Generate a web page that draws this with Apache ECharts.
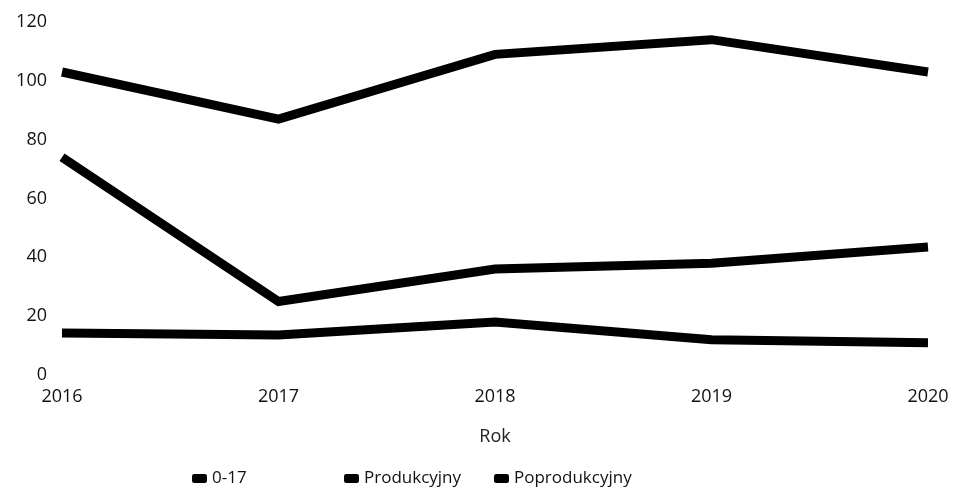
<!DOCTYPE html>
<html><head><meta charset="utf-8">
<script src="https://cdn.jsdelivr.net/npm/echarts@6/dist/echarts.min.js"></script>
<style>html,body{margin:0;padding:0;background:#fff}#c{width:953px;height:489px}</style>
</head><body><div id="c"></div>
<script>
const years = ['2016','2017','2018','2019','2020'];
const seriesNames = ['0-17','Produkcyjny','Poprodukcyjny'];
const val017 = [74, 25, 36, 38, 43.5];
const valProd = [103, 87, 109, 114, 103];
const valPoprod = [14.3, 13.6, 18, 12, 11];
const yTicks = {min: 0, max: 120, interval: 20};

const font = 'Open Sans';
const chart = echarts.init(document.getElementById('c'), null, {renderer: 'canvas'});
const mk = (name, data) => ({
  name, type: 'line', data, symbol: 'none', smooth: false,
  lineStyle: {color: '#000', width: 9, join: 'miter'}, itemStyle: {color: '#000'}
});
const legendPos = [192, 344, 494];
chart.setOption({
  animation: false,
  backgroundColor: '#fff',
  grid: {left: 62, right: 25, top: 22, bottom: 114, containLabel: false},
  legend: seriesNames.map((n, i) => ({
    data: [n], left: legendPos[i], top: 470, itemWidth: 15, itemHeight: 9,
    icon: 'roundRect', itemGap: 6, padding: 0,
    textStyle: {fontFamily: font, fontSize: 17, color: '#111'}
  })),
  xAxis: {
    type: 'category', data: years, boundaryGap: false,
    name: 'Rok', nameLocation: 'middle', nameGap: 53,
    nameTextStyle: {fontFamily: font, fontSize: 18, color: '#222'},
    axisLine: {show: false}, axisTick: {show: false},
    axisLabel: {fontFamily: font, fontSize: 18, color: '#111', margin: 13}
  },
  yAxis: {
    type: 'value', min: yTicks.min, max: yTicks.max, interval: yTicks.interval,
    axisLine: {show: false}, axisTick: {show: false}, splitLine: {show: false},
    axisLabel: {fontFamily: font, fontSize: 18, color: '#111', margin: 15}
  },
  series: [mk(seriesNames[0], val017), mk(seriesNames[1], valProd), mk(seriesNames[2], valPoprod)]
});
</script></body></html>
